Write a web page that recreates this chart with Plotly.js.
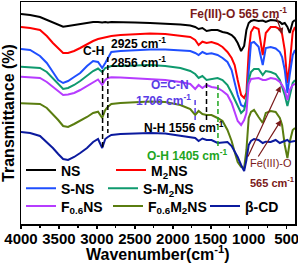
<!DOCTYPE html>
<html>
<head>
<meta charset="utf-8">
<script src="https://cdn.plot.ly/plotly-3.0.1.min.js"></script>
<style>html,body{margin:0;padding:0;background:#fff;}#chart{width:298px;height:264px;}</style>
</head>
<body>
<div id="chart"></div>
<script>
// Wavenumber (cm-1) sample points
const wavenumber = [4000, 3880, 3750, 3660, 3580, 3510, 3445, 3380, 3300, 3220, 3130, 3050, 2985, 2930, 2890, 2855, 2810, 2690, 2500, 2300, 2100, 1900, 1770, 1705, 1660, 1610, 1555, 1490, 1410, 1345, 1280, 1225, 1185, 1145, 1100, 1060, 1030, 1000, 970, 930, 870, 815, 775, 710, 645, 590, 560, 525, 490, 460, 420, 390];

// Transmittance (a.u., stacked with offsets)
const tNS = [210,209,207,204,201,199,197.3,198,199,200, 201,202,202,201.5,202,201.5,202,202,201.5,201, 200.5,199.5,198.5,197,195,196,193,194,194,192, 191,189,186,181,173,178,194,201,203,204, 203,203.5,202,204,203.5,202,200,201,197,191, 202,204];
const tM2NS = [197,196,194,188,181,176,171,171,173,176, 180,183,185,186,187,187.5,188,189,190,190.5, 190,188.5,187,184,179,182.3,181,182,180,177, 172,166,159,144,129,126,131,172,192,197, 195,169,191,197,197,195,190,174,141,159, 192,197];
const tSNS = [175,174,168,161,152,144,141,143,147,151, 158,163,162,156,161,166,172,173,174,174.5, 174.5,174,173,171,169,172,170,170.7,169,166, 162,154,142,129,119,117.3,124,158,181,182, 177.3,159,176,177,175.5,172,167,154,131,149, 169,174];
const tSM2NS = [157.3,157,156,152,146,140,135,136,139,143, 148,153,155.5,152,156,157,158,158,158.5,159, 158,156,153,150,146,148,144,145,146,144, 139,131,124,117,111,114,124,144,152,155, 155,149,153,152,150,144,138,129,118,129, 141,144];
const tF06NS = [147.3,147,146,142,137,133,129,129.5,131,134, 138,142,144.5,139,144,146,146.7,146.5,145.5,145, 144,142,140,135,139,136,139,137,136,133, 129,121,111,103,99,104,111,140,145,145.7, 146,144,144,146,145,142,139,134,124,134, 139,140];
const tF06M2NS = [120.7,120.5,120,116,110,104,98,97,100,103, 107,111,112.3,106,114,117.3,120,121,122,122.5, 122,119,115,109,113,110,109,109,106,103, 94,83,72,62,57,56,74,106,112,114, 107,101,111,113,112,106,99,79,66,82, 94,96];
const tBCD = [92,91,88,82,76,70,65,64,67,71, 76,82,85,76,85,87,89,90,90.5,91, 90.5,88,87,86,83,85.5,84,84,81,81.5, 82,78,73,67,59,53,64,79,83,85, 84,81,82.3,82,84,81,82,83,84,82, 83,83];

const seriesNames = ['NS', 'M<sub>2</sub>NS', 'S-NS', 'S-M<sub>2</sub>NS', 'F<sub>0.6</sub>NS', 'F<sub>0.6</sub>M<sub>2</sub>NS', 'β-CD'];
const seriesColors = ['#000000', '#ff0000', '#1f4fff', '#0f9a6e', '#b63cff', '#5a7d10', '#0b1a9e'];
const seriesLegend = ['legend', 'legend', 'legend2', 'legend2', 'legend3', 'legend3', 'legend3'];
const seriesEntryWidth = [45, 60, 37, 60, 42, 52, 45];
const seriesData = [tNS, tM2NS, tSNS, tSM2NS, tF06NS, tF06M2NS, tBCD];

// Band markers (wavenumber, y from, y to, colour)
const bandWn = [2925, 2856, 1706, 1556, 1405];
const bandY0 = [154, 167, 124, 141, 139];
const bandY1 = [76, 91, 104, 104, 77];
const bandColor = ['#000000', '#000000', '#5a3ce6', '#000000', '#1fa51f'];

const FONT = 'Liberation Sans, Arial, sans-serif';
const MAROON = '#7a1a1a';

const traces = seriesData.map((ys, i) => ({
  type: 'scatter', mode: 'lines', x: wavenumber, y: ys,
  name: seriesNames[i], legend: seriesLegend[i], legendwidth: seriesEntryWidth[i],
  line: {color: seriesColors[i], width: 2}
}));

const shapes = bandWn.map((w, i) => ({
  type: 'line', xref: 'x', yref: 'y', x0: w, x1: w, y0: bandY0[i], y1: bandY1[i],
  line: {color: bandColor[i], width: 1.5, dash: '5px,3px'}
}));

const annFont = (c, s, w) => ({family: FONT, size: s || 12, color: c, weight: w || 'bold'});
const annotations = [
  {x: 3042, y: 173, text: 'C-H', showarrow: false, font: annFont('#000')},
  {x: 2837, y: 181, xanchor: 'left', text: '2925 cm<sup>-1</sup>', showarrow: false, font: annFont('#000')},
  {x: 2837, y: 162, xanchor: 'left', text: '2856 cm<sup>-1</sup>', showarrow: false, font: annFont('#000')},
  {x: 1757, y: 139, xanchor: 'right', text: 'O=C-N', showarrow: false, font: annFont('#5a3ce6')},
  {x: 1728, y: 124, xanchor: 'right', text: '1706 cm<sup>-1</sup>', showarrow: false, font: annFont('#5a3ce6')},
  {x: 2405, y: 97, xanchor: 'left', text: 'N-H 1556 cm<sup>-1</sup>', showarrow: false, font: annFont('#000')},
  {x: 2362, y: 69, xanchor: 'left', text: 'O-H 1405 cm<sup>-1</sup>', showarrow: false, font: annFont('#1fa51f')},
  {x: 1794, y: 211, xanchor: 'left', text: 'Fe(III)-O 565 cm<sup>-1</sup>', showarrow: false, font: annFont(MAROON)},
  {x: 1014, y: 61, xanchor: 'left', text: 'Fe(III)-O', showarrow: false, font: annFont(MAROON, 11, 'normal')},
  {x: 1014, y: 42, xanchor: 'left', text: '565 cm<sup>-1</sup>', showarrow: false, font: annFont(MAROON, 11)},
  {x: 555, y: 190, ax: 645, ay: 208, axref: 'x', ayref: 'y', xref: 'x', yref: 'y', text: '', showarrow: true, arrowhead: 2, arrowsize: 1, arrowwidth: 1.2, arrowcolor: MAROON},
  {x: 579, y: 138, ax: 1018, ay: 66, axref: 'x', ayref: 'y', xref: 'x', yref: 'y', text: '', showarrow: true, arrowhead: 2, arrowsize: 1, arrowwidth: 1.2, arrowcolor: MAROON},
  {x: 572, y: 104, ax: 886, ay: 66, axref: 'x', ayref: 'y', xref: 'x', yref: 'y', text: '', showarrow: true, arrowhead: 2, arrowsize: 1, arrowwidth: 1.2, arrowcolor: MAROON},
  // x-axis title, placed precisely below the tick labels
  {xref: 'paper', yref: 'paper', x: 0.5, y: -0.13, xanchor: 'center', yanchor: 'middle',
   text: 'Wavenumber(cm<sup>-1</sup>)', showarrow: false,
   font: {family: FONT, size: 16, color: '#000', weight: 'bold'}}
];

const legendBase = (y) => ({
  orientation: 'h', x: 0, xanchor: 'left', y: y, yanchor: 'middle',
  bgcolor: 'rgba(0,0,0,0)', borderwidth: 0, entrywidthmode: 'pixels',
  font: {family: FONT, size: 14, color: '#000', weight: 'bold'}
});

const layout = {
  width: 298, height: 264,
  margin: {l: 21, r: 3, t: 2, b: 40, pad: 0},
  paper_bgcolor: '#fff', plot_bgcolor: '#fff',
  font: {family: FONT, color: '#000'},
  showlegend: true,
  legend: legendBase(0.241),
  legend2: legendBase(0.159),
  legend3: legendBase(0.079),
  xaxis: {
    range: [4000, 390], tick0: 0, dtick: 500,
    ticks: 'outside', ticklen: 3, tickwidth: 1.5, tickcolor: '#000',
    minor: {dtick: 250, ticks: 'outside', ticklen: 2, tickwidth: 1.2, tickcolor: '#000'},
    showline: true, linewidth: 1.5, linecolor: '#000', mirror: true,
    showgrid: false, zeroline: false,
    ticklabeloverflow: 'allow', ticklabelstandoff: -3,
    tickfont: {family: FONT, size: 15, color: '#000', weight: 'bold'}
  },
  yaxis: {
    range: [0, 222], showticklabels: false, ticks: '',
    showline: true, linewidth: 1.5, linecolor: '#000', mirror: true,
    showgrid: false, zeroline: false,
    title: {text: 'Transmittance (%)', font: {family: FONT, size: 16, color: '#000', weight: 'bold'}, standoff: 2}
  },
  shapes: shapes,
  annotations: annotations
};

Plotly.newPlot('chart', traces, layout, {displayModeBar: false, staticPlot: true});
</script>
</body>
</html>
